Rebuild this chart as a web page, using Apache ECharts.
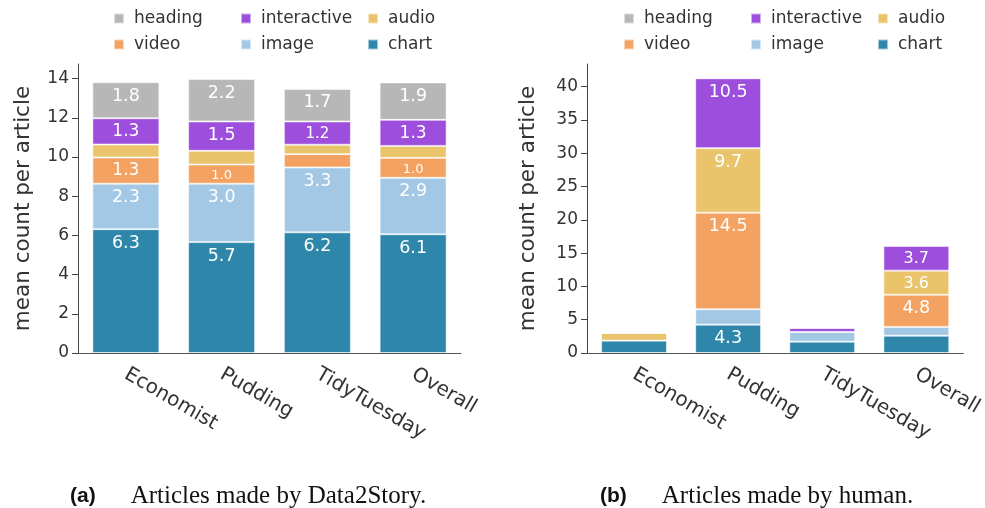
<!DOCTYPE html>
<html>
<head>
<meta charset="utf-8">
<script src="https://cdn.jsdelivr.net/npm/echarts@6/dist/echarts.min.js"></script>
<style>
  html, body { margin: 0; padding: 0; background: #fff; }
  #main { width: 985px; height: 508px; }
</style>
</head>
<body>
<div id="main"></div>
<script>
const categories = ['Economist', 'Pudding', 'TidyTuesday', 'Overall'];
const parts = ['chart', 'image', 'video', 'audio', 'interactive', 'heading'];
const colors = {
  chart: '#2e86ab', image: '#a2c8e6', video: '#f4a261',
  audio: '#e9c46a', interactive: '#9d4edd', heading: '#b7b7b7'
};

// (a) Data2Story
const storyChart = [6.32, 5.66, 6.16, 6.06];
const storyImage = [2.32, 2.98, 3.31, 2.88];
const storyVideo = [1.34, 0.98, 0.68, 1.02];
const storyAudio = [0.66, 0.7, 0.48, 0.61];
const storyInteractive = [1.34, 1.5, 1.19, 1.33];
const storyHeading = [1.84, 2.16, 1.66, 1.91];

// (b) human
const humanChart = [1.86, 4.26, 1.7, 2.6];
const humanImage = [0, 2.32, 1.47, 1.32];
const humanVideo = [0, 14.5, 0, 4.83];
const humanAudio = [1.16, 9.68, 0, 3.62];
const humanInteractive = [0, 10.5, 0.6, 3.72];
const humanHeading = [0, 0, 0, 0];

const storyTicks = [0, 2, 4, 6, 8, 10, 12, 14];
const humanTicks = [0, 5, 10, 15, 20, 25, 30, 35, 40];

const story = { chart: storyChart, image: storyImage, video: storyVideo, audio: storyAudio, interactive: storyInteractive, heading: storyHeading };
const human = { chart: humanChart, image: humanImage, video: humanVideo, audio: humanAudio, interactive: humanInteractive, heading: humanHeading };

const font = 'DejaVu Sans';
const plotH = 289;

// plotly-like inside labels: hidden when the segment is too short, shrunk when tight
function items(values, ppu) {
  return values.map(v => {
    const h = v * ppu;
    if (h < 19) return { value: v, label: { show: false } };
    return { value: v, label: { show: true, fontSize: Math.min(17.5, Math.round(h * 0.66)) } };
  });
}

function makeSeries(set, idx, stack, ppu) {
  return parts.map(p => ({
    name: p,
    type: 'bar',
    stack: stack,
    xAxisIndex: idx,
    yAxisIndex: idx,
    barCategoryGap: '30%',
    itemStyle: { color: colors[p], borderColor: 'rgba(255,255,255,0.55)', borderWidth: 1 },
    label: {
      position: 'insideTop', distance: 5, color: '#fff', fontFamily: font,
      formatter: (d) => d.value.toFixed(1)
    },
    emphasis: { disabled: true },
    data: items(set[p], ppu)
  }));
}

function yAxis(gridIndex, max, ticks, gap) {
  return {
    type: 'value', gridIndex: gridIndex, min: 0, max: max,
    name: 'mean count per article', nameLocation: 'middle', nameGap: gap,
    nameTextStyle: { fontSize: 21.5, color: '#333', fontFamily: font },
    axisLine: { show: true, lineStyle: { color: '#444' } },
    axisTick: { show: true, length: 6, lineStyle: { color: '#444' }, customValues: ticks },
    axisLabel: { fontSize: 17, color: '#333', fontFamily: font, margin: 9, customValues: ticks },
    splitLine: { show: false }
  };
}

function xAxis(gridIndex) {
  return {
    type: 'category', gridIndex: gridIndex, data: categories,
    axisLine: { lineStyle: { color: '#555' } },
    axisTick: { alignWithLabel: true, length: 6, lineStyle: { color: '#555' } },
    axisLabel: { rotate: -30, fontSize: 20, color: '#333', fontFamily: font, margin: 20 }
  };
}

const legendCols = [['heading', 'video'], ['interactive', 'image'], ['audio', 'chart']];
function legends(xs) {
  return legendCols.map((col, i) => ({
    orient: 'vertical', left: xs[i] - 5, top: 5,
    icon: 'rect', itemWidth: 10, itemHeight: 10, itemGap: 9,
    selectedMode: false, data: col,
    textStyle: { fontSize: 17, lineHeight: 17, color: '#333', fontFamily: font, padding: [0, 0, 0, 5] }
  }));
}

function caption(left, tag, text) {
  return {
    left: left, top: 479,
    text: '{b|' + tag + '}{t|' + text + '}',
    textStyle: {
      fontWeight: 'normal',
      rich: {
        b: { fontFamily: 'Liberation Sans', fontWeight: 'bold', fontSize: 21, color: '#111' },
        t: { fontFamily: 'Liberation Serif', fontWeight: 'normal', fontSize: 25, color: '#111', padding: [0, 0, 0, 35] }
      }
    }
  };
}

const chart = echarts.init(document.getElementById('main'));
chart.setOption({
  animation: false,
  title: [caption(65, '(a)', 'Articles made by Data2Story.'), caption(595, '(b)', 'Articles made by human.')],
  legend: legends([113, 240, 367]).concat(legends([623, 750, 877])),
  grid: [
    { left: 78, top: 64, width: 383, height: plotH, containLabel: false },
    { left: 587, top: 64, width: 383, height: plotH, containLabel: false }
  ],
  xAxis: [xAxis(0), xAxis(1)],
  yAxis: [yAxis(0, 14.75, storyTicks, 44), yAxis(1, 43.4, humanTicks, 48)],
  series: makeSeries(story, 0, 'a', plotH / 14.75).concat(makeSeries(human, 1, 'b', plotH / 43.4))
});
</script>
</body>
</html>
